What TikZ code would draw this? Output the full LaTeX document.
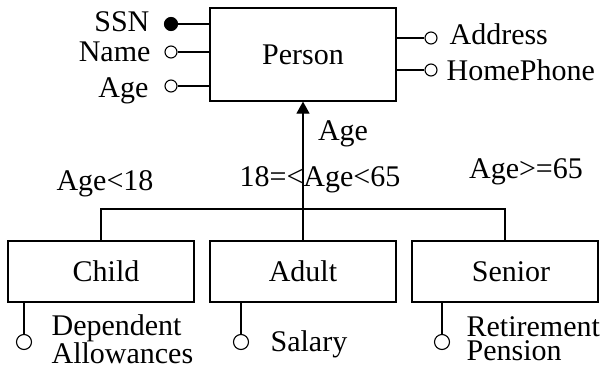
\documentclass[tikz,border=0pt]{standalone}
\usepackage{fontspec}
\setmainfont{Liberation Serif}
\usetikzlibrary{arrows.meta}
\usetikzlibrary{positioning}

\tikzset{
  entity/.style={draw, line width=1.2pt, minimum width=186pt, minimum height=61pt, inner sep=0pt, font=\fontsize{30}{24}\selectfont},
  attr/.style={draw, circle, line width=1.1pt, fill=white, minimum size=12pt, inner sep=0pt},
  keyattr/.style={attr, fill=black, minimum size=13pt},
  subattr/.style={attr, minimum size=15pt},
  txt/.style={inner sep=0pt, font=\fontsize{30}{24}\selectfont},
}

\begin{document}
\begin{tikzpicture}[x=1pt,y=1pt,line width=1.2pt]
        \useasboundingbox (0,0) rectangle (607,365);

        % entities
        \node[entity, minimum height=93pt] (person) at (303,310.5) {Person};
        \node[entity] (child) at (101,93.5) {\hspace*{10pt}Child};
        \node[entity] (adult) at (303,93.5) {Adult};
        \node[entity] (senior) at (505,93.5) {\hspace*{12pt}Senior};

        % attributes of Person
        \node[keyattr] (ssn) at (171,341) {};
        \node[attr] (name) at (171,313) {};
        \node[attr] (age) at (171,279) {};
        \node[attr] (address) at (431,327) {};
        \node[attr] (phone) at (431,295) {};

        \draw (ssn) -- (ssn -| person.west);
        \draw (name) -- (name -| person.west);
        \draw (age) -- (age -| person.west);
        \draw (address -| person.east) -- (address);
        \draw (phone -| person.east) -- (phone);

        \node[txt, anchor=base east] (ssnlbl) at (150,333) {SSN};
        \node[txt, anchor=base east] (namelbl) at (151,303) {Name};
        \node[txt, anchor=base east] (agelbl) at (149,268) {Age};
        \node[txt, anchor=base west] (addresslbl) at (449,320) {Address};
        \node[txt, anchor=base west] (phonelbl) at (446,284) {HomePhone};

        % hierarchy
        \coordinate (bar) at (303,156);
        \draw (child.north) -- (child.north |- bar) -- (senior.north |- bar) -- (senior.north);
        \draw[-{Triangle[length=12pt,width=13pt]}] (adult.north) -- (person.south);

        \node[txt, anchor=base] (discr) at (343,225) {Age};
        \node[txt, anchor=base] (childcond) at (105,175) {Age<18};
        \node[txt, anchor=base] (adultcond) at (320,179) {18=<Age<65};
        \node[txt, anchor=base] (seniorcond) at (526,187) {Age>=65};

        % attributes of the subclasses
        \node[subattr] (dep) at (24,23) {};
        \node[subattr] (salary) at (241,23) {};
        \node[subattr] (pension) at (442,23) {};

        \draw (dep |- child.south) -- (dep);
        \draw (salary |- adult.south) -- (salary);
        \draw (pension |- senior.south) -- (pension);

        \node[txt, anchor=west, align=left] (deplbl) at (51,26) {Dependent\\Allowances};
        \node[txt, anchor=base west] (salarylbl) at (270,14) {Salary};
        \node[txt, anchor=west, align=left] (pensionlbl) at (466,26) {Retirement\\Pension};

    \end{tikzpicture}
\end{document}
